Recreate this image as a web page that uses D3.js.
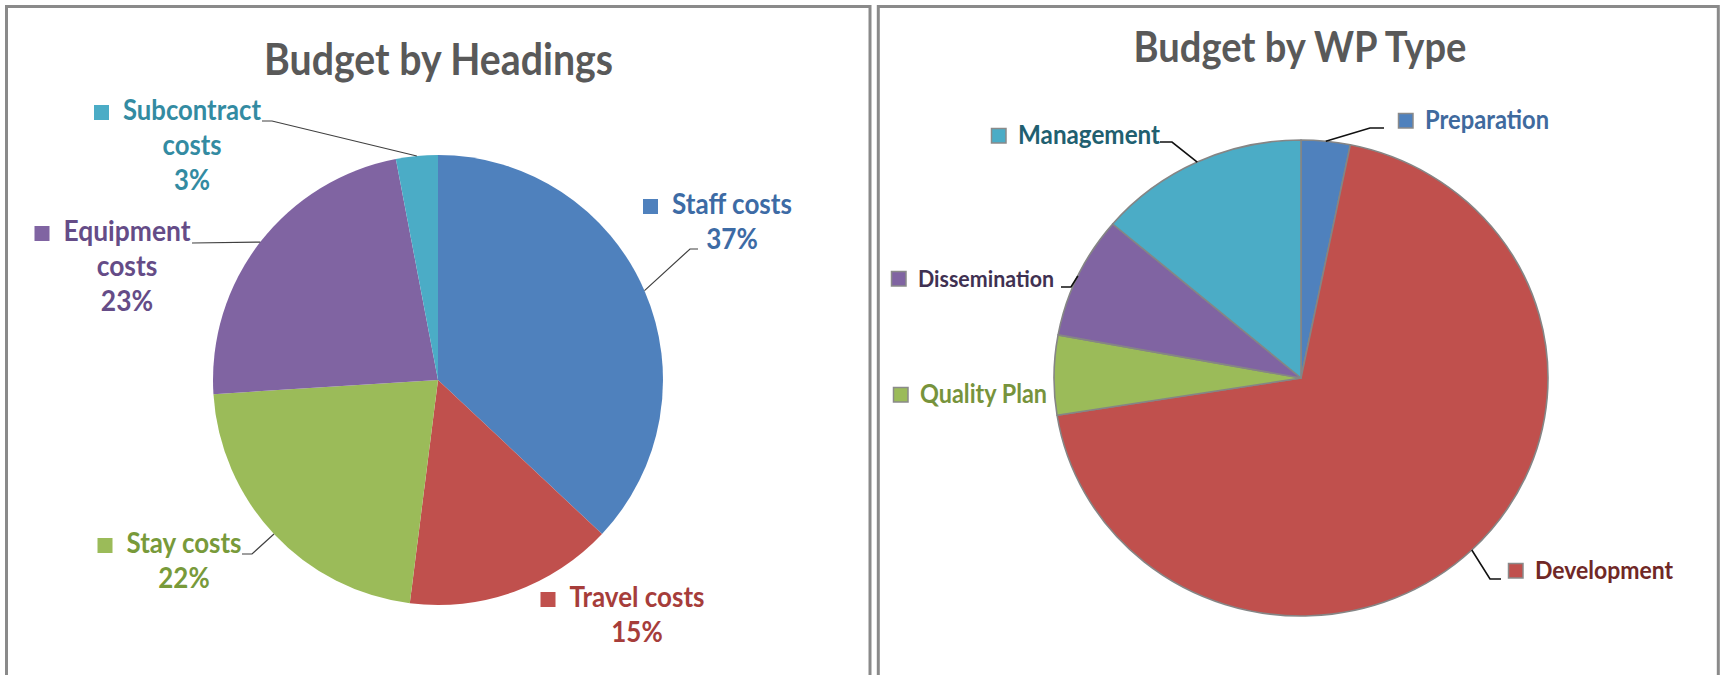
<!DOCTYPE html>
<meta charset="utf-8">
<style>
  body { margin: 0; background: #fff; }
  text { font-family: Lato, "Open Sans", sans-serif; font-weight: bold; }
</style>
<body>
  <script src="https://d3js.org/d3.v7.min.js"></script>
  <script>
    // budget by headings
    var headCats = ["Staff costs", "Travel costs", "Stay costs", "Equipment costs", "Subcontract costs"];
    var headVals = [37, 15, 22, 23, 3];
    var headColors = ["#4F81BD", "#C0504D", "#9BBB59", "#8064A2", "#4BACC6"];
    var headText = ["#3D6BA5", "#A63D3A", "#789A3A", "#654C87", "#338BA2"];

    // budget by WP type
    var wpCats = ["Preparation", "Development", "Quality Plan", "Dissemination", "Management"];
    var wpVals = [3.2, 69.3, 5.4, 8.3, 13.8];
    var wpColors = ["#4F81BD", "#C0504D", "#9BBB59", "#8064A2", "#4BACC6"];
    var wpText = ["#3F6A9E", "#702826", "#77933C", "#3F3152", "#215F70"];

    var width = 1723,
      height = 675,
      stretch = 1.1; // labels are a bit taller than Lato

    var svg = d3.select("body").append("svg")
      .attr("width", width)
      .attr("height", height);

    // panel frames
    svg.append("rect")
      .attr("x", 6.5).attr("y", 6.5)
      .attr("width", 863.5).attr("height", 720)
      .style("fill", "none").style("stroke", "#8a8a8a").style("stroke-width", 3);
    svg.append("rect")
      .attr("x", 878.3).attr("y", 6.5)
      .attr("width", 840).attr("height", 720)
      .style("fill", "none").style("stroke", "#8a8a8a").style("stroke-width", 3);

    function label(x, y, size, s) {
      return svg.append("text")
        .attr("transform", "translate(" + x + "," + y + ") scale(1," + stretch + ")")
        .attr("font-size", size)
        .text(s);
    }

    // shrink/grow a text so it spans w pixels
    function fit(t, w) {
      var cur = t.node().getComputedTextLength();
      t.attr("font-size", parseFloat(t.attr("font-size")) * w / cur);
      return parseFloat(t.attr("font-size"));
    }

    var pct = d3.format(".0%");
    var pie = d3.pie().sort(null).value(function(d) { return d; });

    // ---------- left chart ----------
    var left = { cx: 438, cy: 380, r: 225 };
    // label layout: text centre x, first baseline y, first line width, leader [x0, y0, elbowX]
    var headLayout = [
      { x: 732, y: 214, w: 120, lines: ["Staff costs"], leader: [698, 249, 690] },
      { x: 637, y: 607, w: 135, lines: ["Travel costs"], leader: null },
      { x: 184, y: 553, w: 115, lines: ["Stay costs"], leader: [242, 554, 252] },
      { x: 127, y: 241, w: 127, lines: ["Equipment", "costs"], leader: [192, 243, 192] },
      { x: 192, y: 120, w: 138, lines: ["Subcontract", "costs"], leader: [262, 121, 272] }
    ];

    var headArcs = pie(headVals);
    var total = d3.sum(headVals);
    var arc = d3.arc().innerRadius(0).outerRadius(left.r);

    var gl = svg.append("g")
      .attr("transform", "translate(" + left.cx + "," + left.cy + ")");
    gl.selectAll("path")
      .data(headArcs)
      .enter().append("path")
      .attr("d", arc)
      .style("fill", function(d, i) { return headColors[i]; });

    var title1 = label(438.5, 74.5, 34, "Budget by Headings")
      .attr("text-anchor", "middle")
      .style("fill", "#595959");
    fit(title1, 349);

    headArcs.forEach(function(a, i) {
      var L = headLayout[i];
      var lines = L.lines.concat([pct(headVals[i] / total)]);
      var fs = 22;
      lines.forEach(function(s, k) {
        var t = label(L.x, L.y + k * 35, fs, s)
          .attr("text-anchor", "middle")
          .style("fill", headText[i]);
        if (k == 0) fs = fit(t, L.w);
      });
      svg.append("rect")
        .attr("x", L.x - L.w / 2 - 14 - 15).attr("y", L.y - 15)
        .attr("width", 15).attr("height", 15)
        .style("fill", headColors[i]);
      if (L.leader) {
        var m = (a.startAngle + a.endAngle) / 2;
        var ex = left.cx + left.r * Math.sin(m),
          ey = left.cy - left.r * Math.cos(m);
        svg.append("path")
          .attr("d", d3.line()([[L.leader[0], L.leader[1]], [L.leader[2], L.leader[1]], [ex, ey]]))
          .style("fill", "none").style("stroke", "#404040").style("stroke-width", 1.2);
      }
    });

    // ---------- right chart ----------
    var right = { cx: 1301, cy: 378, rx: 247, ry: 238 };
    // label layout: text left x, baseline y, width, leader [x0, y0, elbowX]
    var wpLayout = [
      { x: 1425, y: 129, w: 124, leader: [1384, 128, 1370] },
      { x: 1535, y: 579, w: 138, leader: [1501, 579, 1490] },
      { x: 920, y: 403, w: 127, leader: null },
      { x: 918, y: 287, w: 136, leader: [1061, 287, 1071] },
      { x: 1018, y: 144, w: 142, leader: [1160, 142, 1172] }
    ];

    var wpArcs = pie(wpVals);
    var arc2 = d3.arc().innerRadius(0).outerRadius(right.rx);

    var gr = svg.append("g")
      .attr("transform", "translate(" + right.cx + "," + right.cy + ") scale(1," + (right.ry / right.rx) + ")");
    gr.selectAll("path")
      .data(wpArcs)
      .enter().append("path")
      .attr("d", arc2)
      .style("fill", function(d, i) { return wpColors[i]; })
      .style("stroke", "#858585")
      .style("stroke-width", 1.6)
      .style("stroke-linejoin", "round");

    var title2 = label(1300, 62, 34, "Budget by WP Type")
      .attr("text-anchor", "middle")
      .style("fill", "#595959");
    fit(title2, 333);

    wpArcs.forEach(function(a, i) {
      var L = wpLayout[i];
      var t = label(L.x, L.y, 22, wpCats[i])
        .style("fill", wpText[i]);
      fit(t, L.w);
      svg.append("rect")
        .attr("x", L.x - 12 - 14.5).attr("y", L.y - 15.5)
        .attr("width", 14.5).attr("height", 14.5)
        .style("fill", wpColors[i])
        .style("stroke", "#8a8a8a").style("stroke-width", 1.5);
      if (L.leader) {
        var m = (a.startAngle + a.endAngle) / 2;
        var ex = right.cx + right.rx * Math.sin(m),
          ey = right.cy - right.ry * Math.cos(m);
        svg.append("path")
          .attr("d", d3.line()([[L.leader[0], L.leader[1]], [L.leader[2], L.leader[1]], [ex, ey]]))
          .style("fill", "none").style("stroke", "#111").style("stroke-width", 1.6);
      }
    });
  </script>
</body>
